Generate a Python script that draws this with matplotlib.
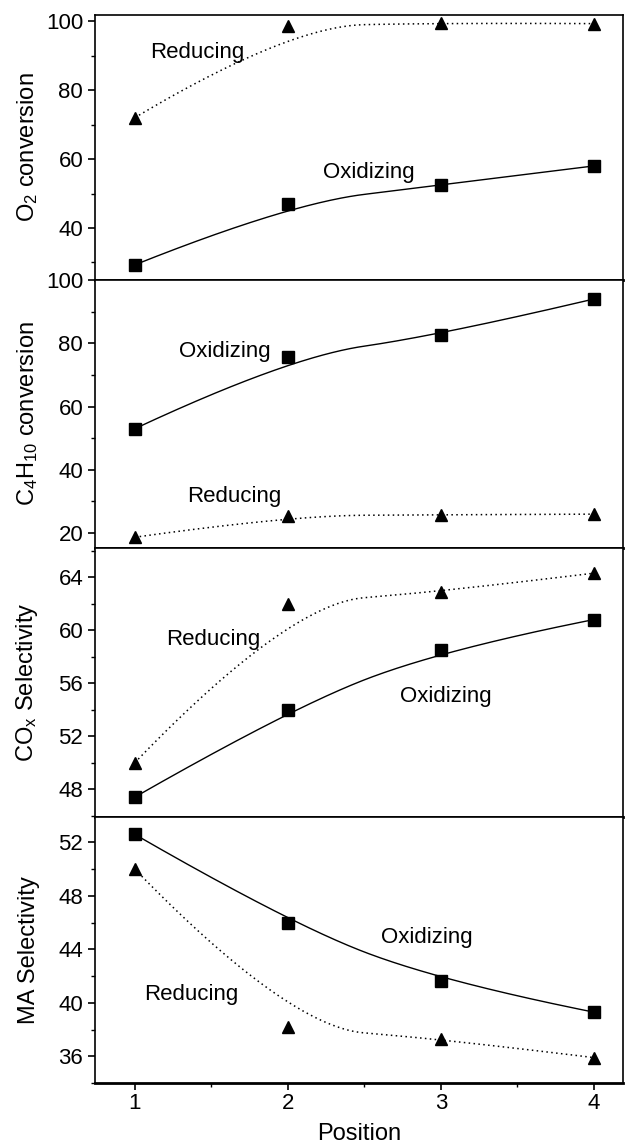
import numpy as np
import matplotlib
matplotlib.use("Agg")
from matplotlib import pyplot as plt
from matplotlib.ticker import MultipleLocator

plt.rcParams['font.family'] = ['Liberation Sans', 'DejaVu Sans']
plt.rcParams['mathtext.fontset'] = 'custom'
plt.rcParams['mathtext.rm'] = 'Liberation Sans'
plt.rcParams['mathtext.it'] = 'Liberation Sans:italic'

# --- data ---
positions = [1, 2, 3, 4]

o2_oxidizing = [29.3, 47.0, 52.5, 58.0]
o2_reducing = [72.0, 98.5, 99.5, 99.3]

c4h10_oxidizing = [53.0, 75.6, 82.6, 94.0]
c4h10_reducing = [18.7, 25.5, 25.8, 26.0]

cox_oxidizing = [47.4, 54.0, 58.5, 60.8]
cox_reducing = [50.0, 62.0, 62.9, 64.3]

ma_oxidizing = [52.6, 46.0, 41.6, 39.3]
ma_reducing = [50.0, 38.2, 37.3, 35.9]

ylabels = [r"$\mathregular{O_2}$ conversion",
           r"$\mathregular{C_4H_{10}}$ conversion",
           r"$\mathregular{CO_x}$ Selectivity",
           "MA Selectivity"]
xlabel = "Position"


def bspline(x, y, n=100):
    # clamped quadratic B-spline using the data points as control points
    # (two quadratic Bezier pieces joined at the midpoint of the inner points)
    p = np.column_stack([np.asarray(x, float), np.asarray(y, float)])
    m = (p[1] + p[2]) / 2
    t = np.linspace(0, 1, n)[:, None]
    seg1 = (1 - t) ** 2 * p[0] + 2 * t * (1 - t) * p[1] + t ** 2 * m
    seg2 = (1 - t) ** 2 * m + 2 * t * (1 - t) * p[2] + t ** 2 * p[3]
    c = np.vstack([seg1, seg2[1:]])
    return c[:, 0], c[:, 1]


panels = [
    dict(ox=o2_oxidizing, red=o2_reducing, ylim=(24.9, 101.8), major=20, minor=10,
         ox_txt=(2.53, 56.0), red_txt=(1.41, 91.0), xminor=0.5),
    dict(ox=c4h10_oxidizing, red=c4h10_reducing, ylim=(15.3, 100.0), major=20, minor=10,
         ox_txt=(1.59, 77.5), red_txt=(1.65, 31.5), xminor=0.25),
    dict(ox=cox_oxidizing, red=cox_reducing, ylim=(45.9, 66.2), major=4, minor=2,
         ox_txt=(3.03, 55.0), red_txt=(1.51, 59.3), xminor=0.25),
    dict(ox=ma_oxidizing, red=ma_reducing, ylim=(34.0, 53.9), major=4, minor=2,
         ox_txt=(2.91, 44.9), red_txt=(1.37, 40.6), xminor=0.5),
]

W, H = 627, 1148
fig = plt.figure(figsize=(W / 100, H / 100), dpi=100)

left, right = 95, 623
edges = [15, 280, 548, 817, 1083]

for i, p in enumerate(panels):
    top, bot = edges[i], edges[i + 1]
    ax = fig.add_axes([left / W, 1 - bot / H, (right - left) / W, (bot - top) / H])

    ax.plot(*bspline(positions, p['ox']), color='black', lw=1.0)
    ax.plot(*bspline(positions, p['red']), color='black', lw=1.1, ls=(0, (1, 2.2)))
    ax.plot(positions, p['ox'], ls='none', marker='s', ms=8, color='black')
    ax.plot(positions, p['red'], ls='none', marker='^', ms=9, color='black')

    ax.text(*p['ox_txt'], "Oxidizing", ha='center', va='center', fontsize=16)
    ax.text(*p['red_txt'], "Reducing", ha='center', va='center', fontsize=16)

    ax.set_xlim(0.74, 4.19)
    ax.set_ylim(*p['ylim'])
    ax.yaxis.set_major_locator(MultipleLocator(p['major']))
    ax.yaxis.set_minor_locator(MultipleLocator(p['minor']))
    ax.xaxis.set_major_locator(MultipleLocator(1))
    ax.xaxis.set_minor_locator(MultipleLocator(p['xminor']))

    ax.tick_params(axis='y', which='major', direction='out', length=5, width=1.2, labelsize=16)
    ax.tick_params(axis='y', which='minor', direction='out', length=3, width=1.0)
    ax.tick_params(axis='x', which='major', direction='out', length=5, width=1.2, labelsize=16,
                   pad=2.5)
    ax.tick_params(axis='x', which='minor', direction='out', length=3, width=1.0)

    for s in ['left', 'right', 'top']:
        ax.spines[s].set_linewidth(1.2)
    ax.spines['bottom'].set_linewidth(2.0)

    ax.set_ylabel(ylabels[i], fontsize=17)
    ax.yaxis.set_label_coords(-0.105, 0.5)

    if i < 3:
        ax.tick_params(axis='x', labelbottom=False)
    else:
        ax.set_xlabel(xlabel, fontsize=17, labelpad=6)

fig.savefig("out.png", dpi=100)
